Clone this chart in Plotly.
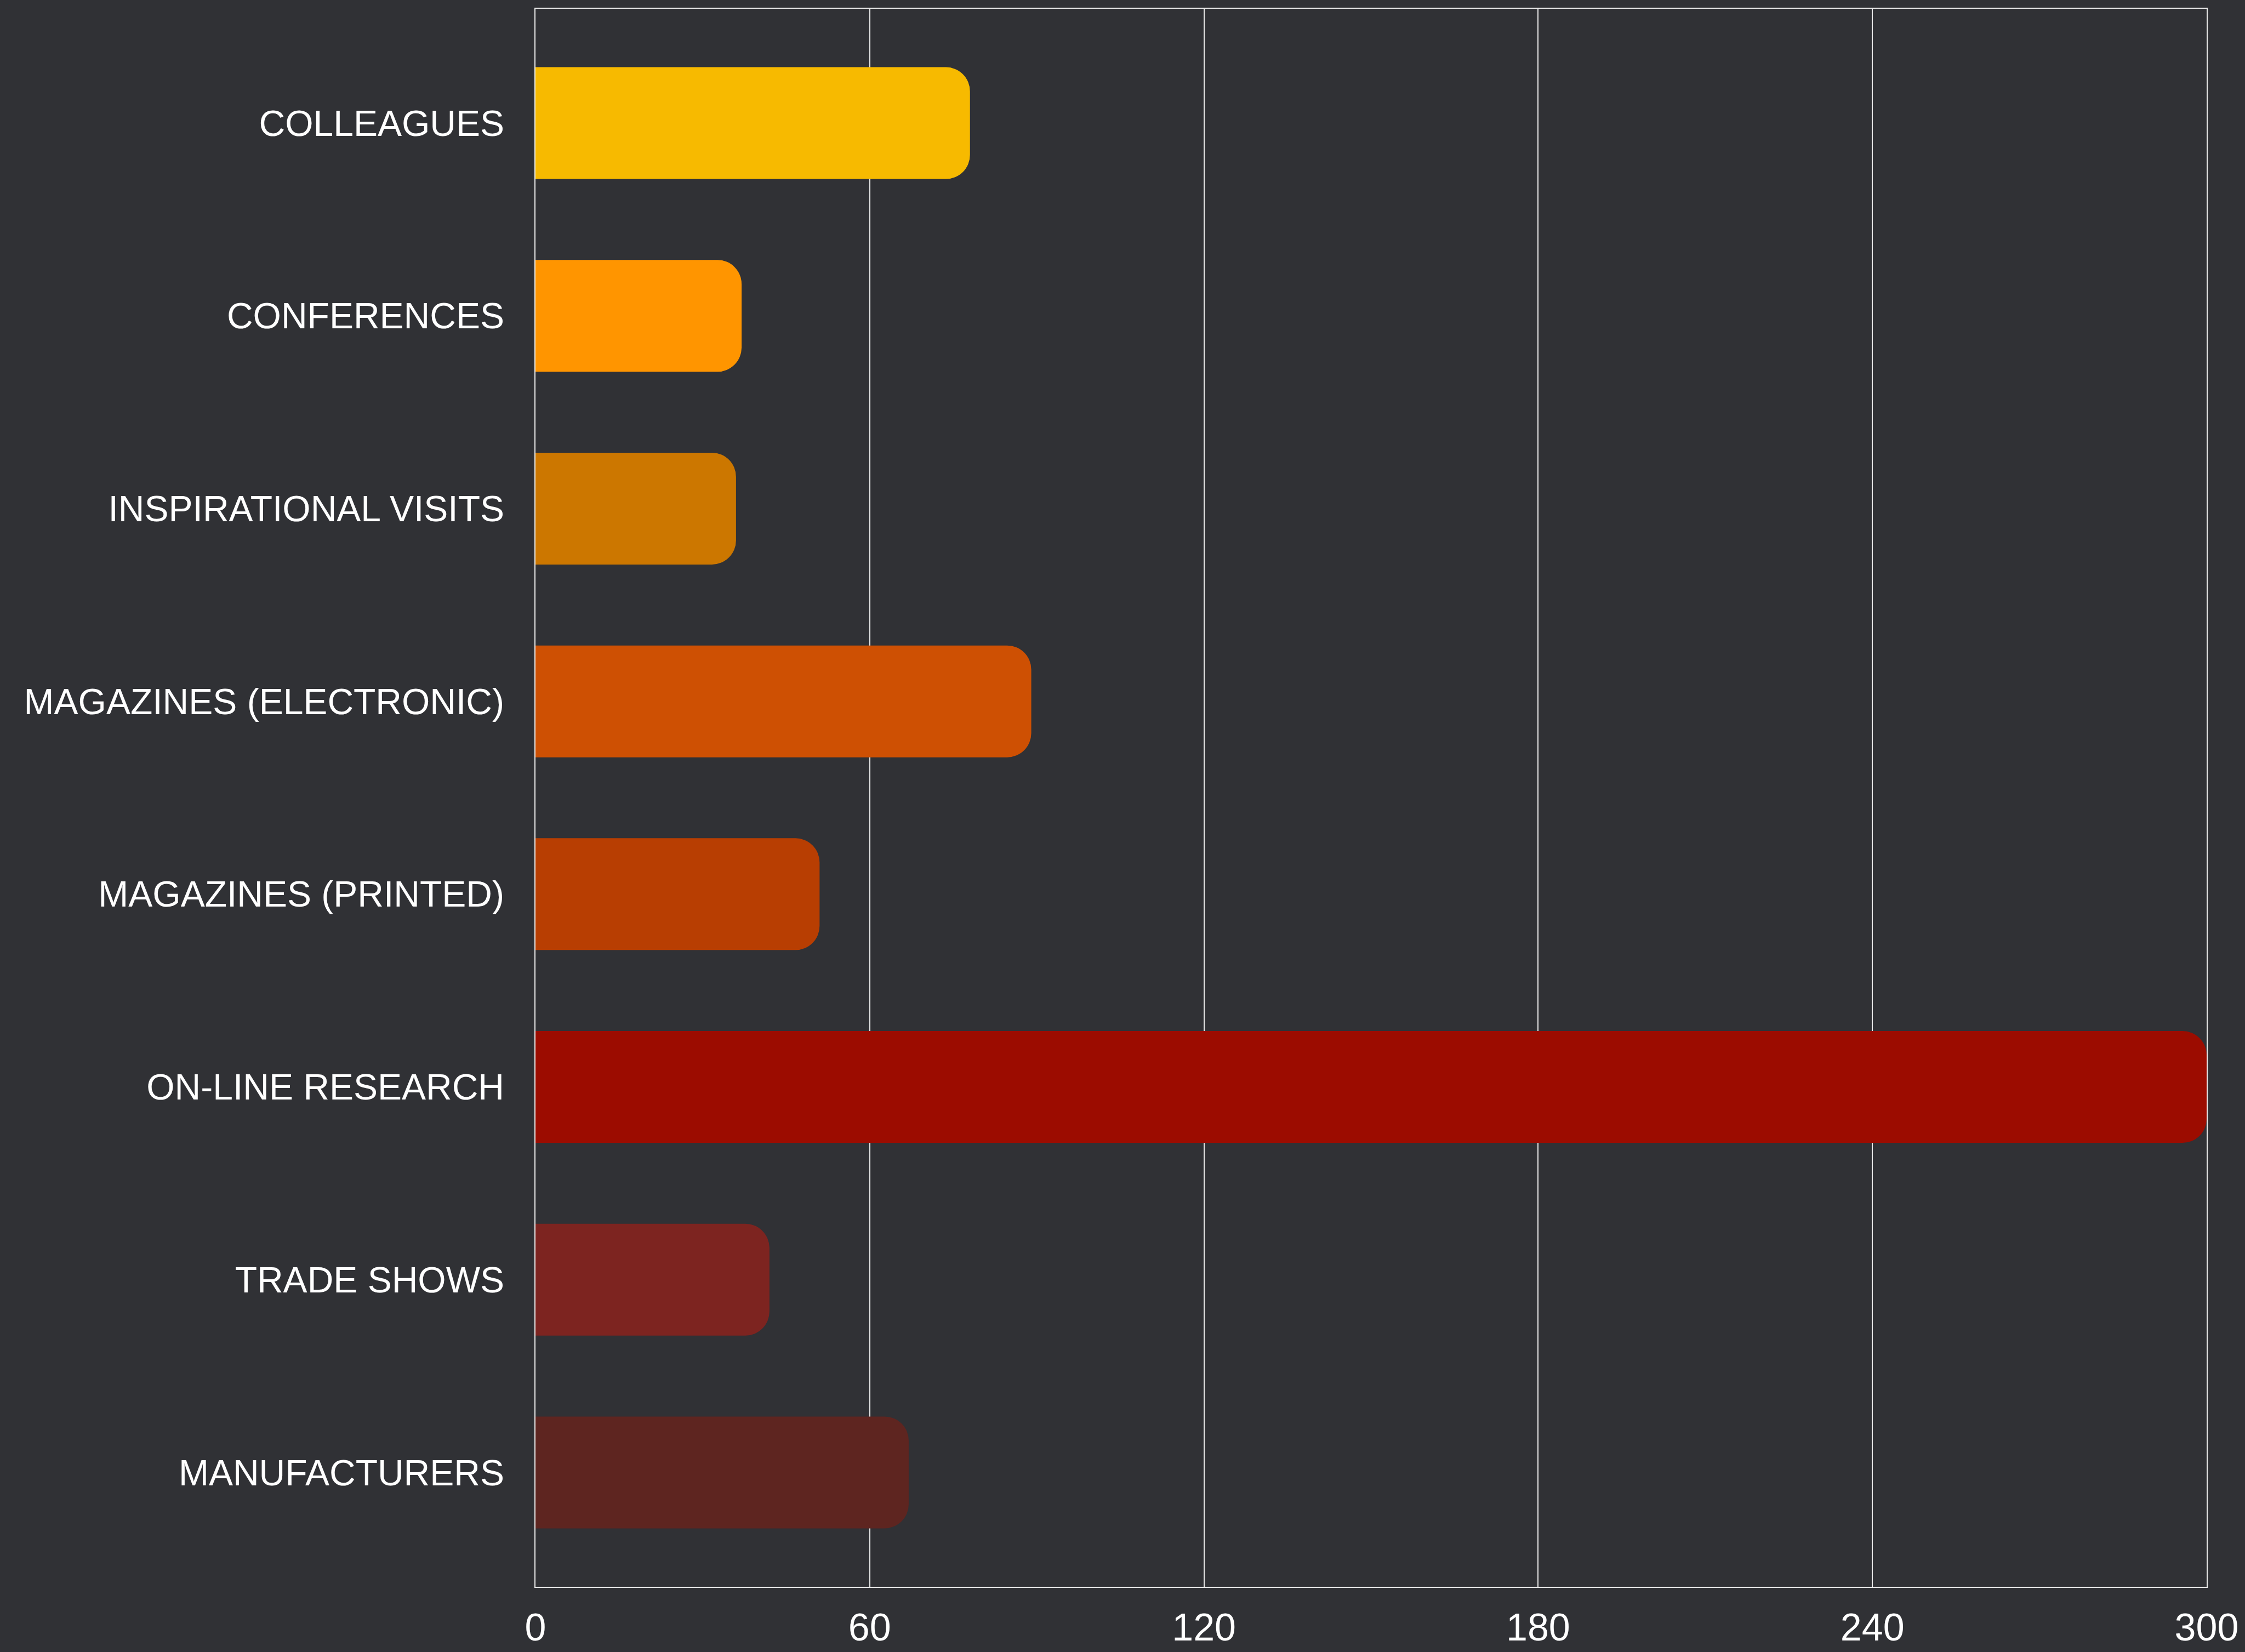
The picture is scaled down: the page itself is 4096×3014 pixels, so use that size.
import plotly.graph_objects as go

# Information sources and the number of responses for each
categories = [
    "COLLEAGUES",
    "CONFERENCES",
    "INSPIRATIONAL VISITS",
    "MAGAZINES (ELECTRONIC)",
    "MAGAZINES (PRINTED)",
    "ON-LINE RESEARCH",
    "TRADE SHOWS",
    "MANUFACTURERS",
]
values = [78, 37, 36, 89, 51, 300, 42, 67]
bar_colors = [
    "#F7BA00",
    "#FF9500",
    "#CC7700",
    "#CE5003",
    "#B83E02",
    "#9C0C00",
    "#7D2420",
    "#5E2520",
]
x_ticks = [0, 60, 120, 180, 240, 300]

BG = "#303135"
LINE = "#E8E8E8"
FONT = "Helvetica Neue, Liberation Sans, Arial, sans-serif"

fig = go.Figure(
    go.Bar(
        x=values,
        y=categories,
        orientation="h",
        width=0.58,
        marker=dict(color=bar_colors, line=dict(width=0), cornerradius=44),
        hoverinfo="x+y",
    )
)

fig.update_layout(
    width=4096,
    height=3014,
    paper_bgcolor=BG,
    plot_bgcolor=BG,
    margin=dict(l=977, r=70, t=16, b=119, pad=0),
    showlegend=False,
    font=dict(family=FONT, color="white"),
)

fig.update_xaxes(
    range=[0, 300],
    tickvals=x_ticks,
    ticktext=[str(v) for v in x_ticks],
    automargin=False,
    showgrid=True,
    gridcolor=LINE,
    gridwidth=1.6,
    zeroline=False,
    showline=True,
    linecolor=LINE,
    linewidth=1.6,
    mirror=True,
    ticks="",
    ticklabelstandoff=12,
    tickfont=dict(family=FONT, size=70, color="white"),
)

fig.update_yaxes(
    type="category",
    categoryorder="array",
    categoryarray=categories,
    range=[len(categories) - 1 + 0.593, -0.593],
    automargin=False,
    showgrid=False,
    zeroline=False,
    showline=True,
    linecolor=LINE,
    linewidth=1.6,
    mirror=True,
    ticks="",
    ticklabelstandoff=42,
    tickfont=dict(family=FONT, size=66, color="white"),
)

fig.write_html("out.html")
